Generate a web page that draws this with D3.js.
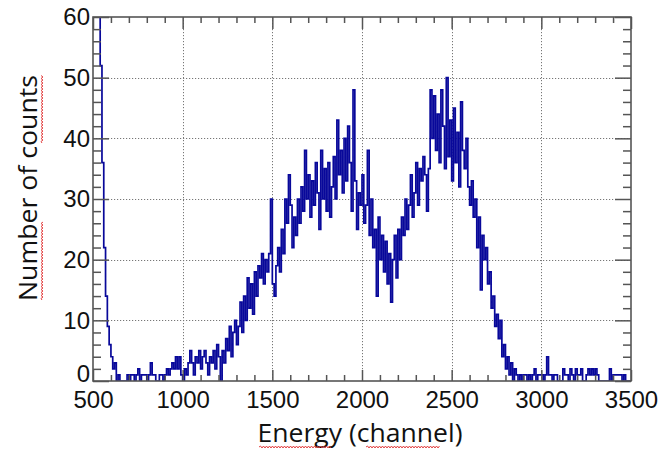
<!DOCTYPE html>
<html>
<head>
<meta charset="utf-8">
<script src="https://cdn.jsdelivr.net/npm/d3@7"></script>
<style>
  html, body { margin: 0; padding: 0; background: #fff; }
  svg { display: block; }
</style>
</head>
<body>
<svg id="chart" width="661" height="452"></svg>
<script>
// ---- data ----
const binStart = 500;      // first channel
const binWidth = 10;       // channels per bin
const counts = [
  300, 200, 130, 85, 52, 36, 22, 14, 9, 6,
  4, 2, 3, 0, 1, 0, 0, 0, 0, 1,
  0, 1, 1, 0, 1, 2, 0, 1, 1, 1,
  0, 1, 3, 1, 1, 0, 0, 1, 1, 0,
  1, 2, 1, 2, 3, 2, 4, 2, 4, 1,
  0, 2, 1, 3, 5, 3, 1, 4, 3, 5,
  2, 4, 5, 3, 1, 4, 3, 5, 2, 6,
  4, 0, 5, 3, 7, 5, 9, 4, 8, 10,
  6, 9, 13, 8, 14, 10, 17, 12, 16, 11,
  18, 14, 19, 17, 21, 16, 20, 18, 21, 30,
  16, 14, 19, 22, 18, 25, 21, 30, 26, 34,
  29, 22, 27, 24, 30, 26, 32, 28, 38, 30,
  34, 27, 33, 29, 36, 31, 25, 38, 30, 35,
  28, 36, 27, 32, 37, 30, 43, 34, 38, 31,
  40, 33, 42, 36, 28, 48, 33, 25, 31, 29,
  34, 26, 29, 38, 24, 30, 22, 25, 14, 27,
  20, 24, 18, 23, 16, 21, 13, 20, 24, 17,
  25, 20, 27, 24, 30, 25, 29, 34, 27, 31,
  36, 29, 35, 33, 37, 34, 28, 35, 48, 40,
  47, 38, 44, 36, 48, 42, 35, 50, 37, 43,
  33, 45, 36, 41, 32, 46, 38, 35, 40, 32,
  29, 33, 27, 30, 22, 27, 15, 24, 20, 22,
  16, 18, 12, 14, 9, 11, 7, 10, 4, 6,
  2, 4, 1, 3, 0, 2, 1, 0, 1, 0,
  1, 1, 0, 1, 0, 1, 2, 0, 1, 1,
  1, 0, 1, 4, 1, 1, 0, 1, 1, 0,
  0, 0, 2, 1, 1, 0, 2, 1, 0, 2,
  1, 1, 2, 0, 0, 1, 2, 1, 2, 1,
  2, 1, 0, 0, 0, 0, 0, 0, 2, 0,
  1, 1, 1, 1, 1, 0, 1, 0, 0, 0
];
const xTicks = [500, 1000, 1500, 2000, 2500, 3000, 3500];
const yTicks = [0, 10, 20, 30, 40, 50, 60];
const xTitle = "Energy (channel)";
const yTitle = "Number of counts";

// ---- layout ----
const svg = d3.select("#chart");
const L = 93, R = 631, T = 17, B = 381;
const x = d3.scaleLinear().domain([500, 3500]).range([L, R]);
const y = d3.scaleLinear().domain([0, 60]).range([B, T]);
const frameColor = "#555";
const lineColor = "#08089a";

const xMinor = d3.range(500, 3501, 100).filter(v => v % 500 !== 0);
const yMinor = d3.range(0, 61, 2).filter(v => v % 10 !== 0);

// grid
const grid = svg.append("g").attr("stroke", "#777").attr("stroke-width", 1)
  .attr("stroke-dasharray", "1.2,1.8");
grid.selectAll(".gx").data(xTicks.slice(1, -1)).join("line")
  .attr("x1", d => Math.round(x(d)) + 0.5).attr("x2", d => Math.round(x(d)) + 0.5)
  .attr("y1", T).attr("y2", B);
grid.selectAll(".gy").data(yTicks.slice(1, -1)).join("line")
  .attr("y1", d => Math.round(y(d)) + 0.5).attr("y2", d => Math.round(y(d)) + 0.5)
  .attr("x1", L).attr("x2", R);

// histogram
svg.append("clipPath").attr("id", "plotclip")
  .append("rect").attr("x", L).attr("y", T).attr("width", R - L).attr("height", B - T);
const pts = counts.map((c, i) => [binStart + i * binWidth, c]);
pts.push([binStart + counts.length * binWidth, counts[counts.length - 1]]);
const line = d3.line().x(d => x(d[0])).y(d => y(d[1])).curve(d3.curveStepAfter);
svg.append("path").attr("clip-path", "url(#plotclip)")
  .attr("d", line(pts)).attr("fill", "none")
  .attr("stroke", lineColor).attr("stroke-width", 1.7).attr("stroke-linejoin", "miter");

// axes helper
function styleAxis(g) {
  g.select(".domain").remove();
  g.selectAll(".tick line").attr("stroke", frameColor).attr("stroke-width", 1.5);
  g.selectAll("text").attr("font-family", "Liberation Sans, Arial, sans-serif")
    .attr("font-size", 24).attr("fill", "#111");
}
// bottom
svg.append("g").attr("transform", `translate(0,${B})`)
  .call(d3.axisBottom(x).tickValues(xTicks).tickSize(-11).tickPadding(10).tickFormat(d3.format("d")))
  .call(styleAxis);
svg.append("g").attr("transform", `translate(0,${B})`)
  .call(d3.axisBottom(x).tickValues(xMinor).tickSize(-6).tickFormat(""))
  .call(styleAxis);
// top
svg.append("g").attr("transform", `translate(0,${T})`)
  .call(d3.axisTop(x).tickValues(xTicks).tickSize(-12).tickFormat(""))
  .call(styleAxis);
svg.append("g").attr("transform", `translate(0,${T})`)
  .call(d3.axisTop(x).tickValues(xMinor).tickSize(-6).tickFormat(""))
  .call(styleAxis);
// left
const leftAxis = svg.append("g").attr("transform", `translate(${L},0)`)
  .call(d3.axisLeft(y).tickValues(yTicks).tickSize(-16).tickPadding(3).tickFormat(d3.format("d")))
  .call(styleAxis);
leftAxis.selectAll(".tick").filter(d => d === 0).select("text").attr("dy", "0em");
svg.append("g").attr("transform", `translate(${L},0)`)
  .call(d3.axisLeft(y).tickValues(yMinor).tickSize(-8).tickFormat(""))
  .call(styleAxis);
// right
svg.append("g").attr("transform", `translate(${R},0)`)
  .call(d3.axisRight(y).tickValues(yTicks).tickSize(-16).tickFormat(""))
  .call(styleAxis);
svg.append("g").attr("transform", `translate(${R},0)`)
  .call(d3.axisRight(y).tickValues(yMinor).tickSize(-8).tickFormat(""))
  .call(styleAxis);

// frame
svg.append("rect").attr("x", L).attr("y", T).attr("width", R - L).attr("height", B - T)
  .attr("fill", "none").attr("stroke", frameColor).attr("stroke-width", 1.6);

// titles
const titleFont = "Open Sans, Noto Sans, sans-serif";
svg.append("text").attr("x", 360).attr("y", 442).attr("text-anchor", "middle")
  .attr("font-family", titleFont).attr("font-size", 25).attr("fill", "#111")
  .attr("textLength", 205).attr("lengthAdjust", "spacingAndGlyphs")
  .text(xTitle);
svg.append("text").attr("transform", "translate(37,188) rotate(-90)")
  .attr("text-anchor", "middle")
  .attr("font-family", titleFont).attr("font-size", 25).attr("fill", "#111")
  .attr("textLength", 226).attr("lengthAdjust", "spacingAndGlyphs")
  .text(yTitle);

// spell-check squiggles
function wavy(x0, x1) {
  let d = `M${x0},0`;
  let up = true;
  for (let xx = x0 + 1.5; xx <= x1; xx += 1.5) { d += `L${xx},${up ? -1 : 1}`; up = !up; }
  return d;
}
const sq = svg.append("g").attr("fill", "none").attr("stroke", "#e03030").attr("stroke-width", 0.9);
sq.append("path").attr("transform", "translate(0,447)").attr("d", wavy(259, 331));
sq.append("path").attr("transform", "translate(0,447)").attr("d", wavy(366, 440));
sq.append("path").attr("transform", "translate(42,0) rotate(-90)").attr("d", wavy(-300, -222));
sq.append("path").attr("transform", "translate(42,0) rotate(-90)").attr("d", wavy(-143, -75));
</script>
</body>
</html>
